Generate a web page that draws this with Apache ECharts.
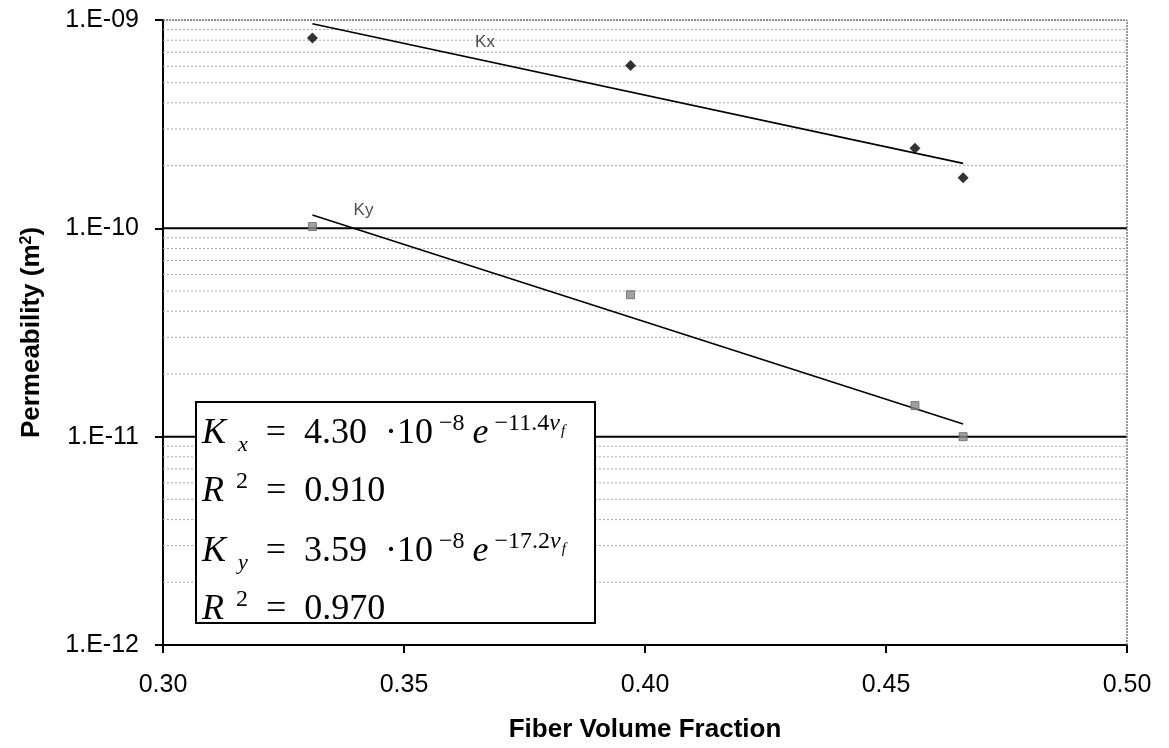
<!DOCTYPE html>
<html>
<head>
<meta charset="utf-8">
<script src="https://cdn.jsdelivr.net/npm/echarts@6/dist/echarts.min.js"></script>
<style>
  html, body { margin: 0; padding: 0; background: #fff; }
  #chart { width: 1169px; height: 748px; }
</style>
</head>
<body>
<div id="chart"></div>
<script>
// measured points (fiber volume fraction vs permeability, m^2)
const vfKx = [0.331, 0.397, 0.456, 0.466];
const kx = [8.2e-10, 6.05e-10, 2.42e-10, 1.75e-10];
const vfKy = [0.331, 0.397, 0.456, 0.466];
const ky = [1.02e-10, 4.8e-11, 1.41e-11, 1.0e-11];

// exponential trendlines, end points
const kxTrend = [[0.331, 9.6e-10], [0.466, 2.05e-10]];
const kyTrend = [[0.331, 1.16e-10], [0.466, 1.15e-11]];

// line labels
const seriesLabels = [
  { name: 'Kx', at: [0.3668, 7.8e-10] },
  { name: 'Ky', at: [0.3416, 1.22e-10] },
];

// gridlines
const xRange = [0.3, 0.5];
const yRange = [1e-12, 1e-9];
const majorLines = [1e-11, 1e-10];
const decades = [1e-12, 1e-11, 1e-10];
const minorSteps = [2, 3, 4, 5, 6, 7, 8, 9];

// area hidden by the equation box (data units)
const boxX = [0.3068, 0.3896];
const boxY = [1.33e-12, 1.51e-11];

const minorLines = [];
decades.forEach(d => minorSteps.forEach(m => minorLines.push(m * d)));

const pair = (xs, ys) => xs.map((x, i) => [x, ys[i]]);

const fmtSci = v => {
  const e = Math.round(Math.log10(v));
  const s = String(Math.abs(e)).padStart(2, '0');
  return '1.E' + (e < 0 ? '-' : '+') + s;
};

// one gridline as a line series; a '-' entry breaks it where the box sits
const hLine = (v, style) => {
  const covered = v > boxY[0] && v < boxY[1];
  const data = covered
    ? [[xRange[0], v], [boxX[0], v], '-', [boxX[1], v], [xRange[1], v]]
    : [[xRange[0], v], [xRange[1], v]];
  return {
    type: 'line',
    data,
    symbol: 'none',
    silent: true,
    connectNulls: false,
    lineStyle: style,
    z: 1,
  };
};
const vLine = (v, style) => ({
  type: 'line',
  data: yRange.map(y => [v, y]),
  symbol: 'none',
  silent: true,
  lineStyle: style,
  z: 1,
});

const gridSeries = [
  ...minorLines.map(v => hLine(v, { color: '#a8a8a8', width: 1, type: [2, 2] })),
  ...majorLines.map(v => hLine(v, { color: '#000', width: 2, type: 'solid' })),
  hLine(yRange[1], { color: '#555', width: 1.5, type: [2, 1] }),
  vLine(xRange[1], { color: '#777', width: 1.5, type: [2, 1] }),
];

const sans = "'Liberation Sans', Arial, sans-serif";
const serif = "'Liberation Serif', 'DejaVu Serif', serif";
const eqRich = {
  i: { fontFamily: serif, fontStyle: 'italic', fontSize: 36, lineHeight: 44, color: '#000' },
  e: { fontFamily: serif, fontStyle: 'italic', fontSize: 36, lineHeight: 44, padding: [0, 0, 0, 8], color: '#000' },
  n: { fontFamily: serif, fontSize: 36, lineHeight: 44, color: '#000' },
  sb: { fontFamily: serif, fontStyle: 'italic', fontSize: 22, lineHeight: 18, verticalAlign: 'bottom', padding: [0, 0, 0, 12], color: '#000' },
  sp: { fontFamily: serif, fontSize: 24, lineHeight: 22, verticalAlign: 'top', padding: [0, 0, 0, 6], color: '#000' },
  sp2: { fontFamily: serif, fontSize: 24, lineHeight: 22, verticalAlign: 'top', padding: [0, 0, 0, 12], color: '#000' },
  spi: { fontFamily: serif, fontStyle: 'italic', fontSize: 24, lineHeight: 22, verticalAlign: 'top', color: '#000' },
  ssb: { fontFamily: serif, fontStyle: 'italic', fontSize: 15, lineHeight: 14, verticalAlign: 'top', padding: [12, 0, 0, 1], color: '#000' },
};

const eqLines = [
  '{i|K}{sb|x}{n|  =  4.30  ·10}{sp|−8}{e|e}{sp|−11.4}{spi|v}{ssb|f}',
  '{i|R}{sp2|2}{n|  =  0.910}',
  '{i|K}{sb|y}{n|  =  3.59  ·10}{sp|−8}{e|e}{sp|−17.2}{spi|v}{ssb|f}',
  '{i|R}{sp2|2}{n|  =  0.970}',
];
const eqTop = [412, 470, 530, 588];

const chart = echarts.init(document.getElementById('chart'));

chart.setOption({
  animation: false,
  backgroundColor: '#fff',
  grid: { left: 163, right: 42, top: 20, bottom: 99 },
  xAxis: {
    type: 'value',
    min: xRange[0],
    max: xRange[1],
    interval: 0.05,
    name: 'Fiber Volume Fraction',
    nameLocation: 'middle',
    nameGap: 72,
    nameTextStyle: { fontFamily: sans, fontWeight: 'bold', fontSize: 26, color: '#000' },
    axisLine: { lineStyle: { color: '#000', width: 2 } },
    axisTick: { show: true, length: 8, lineStyle: { color: '#000', width: 2 } },
    axisLabel: {
      margin: 28,
      fontFamily: sans,
      fontSize: 25,
      color: '#000',
      formatter: v => v.toFixed(2),
    },
    splitLine: { show: false },
  },
  yAxis: {
    type: 'log',
    logBase: 10,
    min: yRange[0],
    max: yRange[1],
    name: 'Permeability (m{s|2})',
    nameLocation: 'middle',
    nameGap: 118,
    nameRotate: 90,
    nameTextStyle: {
      fontFamily: sans,
      fontWeight: 'bold',
      fontSize: 26,
      color: '#000',
      rich: {
        s: { fontFamily: sans, fontWeight: 'bold', fontSize: 16, verticalAlign: 'top', lineHeight: 16, color: '#000' },
      },
    },
    axisLine: { show: true, lineStyle: { color: '#000', width: 2 } },
    axisTick: { show: true, length: 8, lineStyle: { color: '#000', width: 2 } },
    axisLabel: {
      margin: 24,
      fontFamily: sans,
      fontSize: 25,
      color: '#000',
      formatter: fmtSci,
    },
    splitLine: { show: false },
    minorTick: { show: false },
    minorSplitLine: { show: false },
  },
  series: [
    ...gridSeries,
    {
      name: 'Kx fit',
      type: 'line',
      data: kxTrend,
      symbol: 'none',
      lineStyle: { color: '#000', width: 1.6 },
      z: 3,
    },
    {
      name: 'Ky fit',
      type: 'line',
      data: kyTrend,
      symbol: 'none',
      lineStyle: { color: '#000', width: 1.6 },
      z: 3,
    },
    {
      name: 'Kx',
      type: 'scatter',
      data: pair(vfKx, kx),
      symbol: 'diamond',
      symbolSize: 11,
      itemStyle: { color: '#000' },
      z: 4,
    },
    {
      name: 'Ky',
      type: 'scatter',
      data: pair(vfKy, ky),
      symbol: 'rect',
      symbolSize: 8,
      itemStyle: { color: '#8a8a8a', borderColor: '#666', borderWidth: 1 },
      z: 4,
    },
    {
      name: 'labels',
      type: 'scatter',
      data: seriesLabels.map(d => ({ value: d.at, name: d.name })),
      symbolSize: 0,
      label: {
        show: true,
        position: 'inside',
        formatter: p => p.name,
        fontFamily: sans,
        fontSize: 17,
        color: '#222',
      },
      z: 4,
    },
  ],
  graphic: {
    elements: [
      {
        type: 'rect',
        z: 100,
        shape: { x: 196, y: 402, width: 399, height: 221 },
        style: { fill: '#ffffff', stroke: '#000', lineWidth: 2 },
      },
      ...eqLines.map((t, i) => ({
        type: 'text',
        z: 101,
        x: 202,
        y: eqTop[i],
        style: { text: t, rich: eqRich, fill: '#000' },
      })),
    ],
  },
});
</script>
</body>
</html>
